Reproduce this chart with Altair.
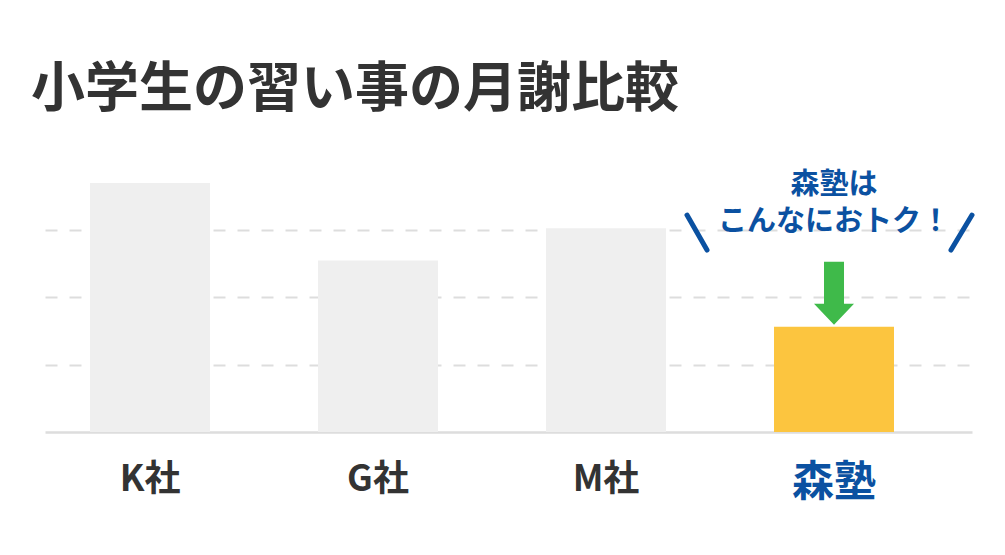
import altair as alt
import pandas as pd

# ---- data ----
companies = ["K社", "G社", "M社", "森塾"]
fees = [18450, 12700, 15100, 7800]          # monthly fee (estimated, yen)
bar_colors = ["#efefef", "#efefef", "#efefef", "#fcc53f"]
grid_values = [5000, 10000, 15000]

title_text = "小学生の習い事の月謝比較"
callout_lines = ["森塾は", "こんなにおトク！"]
callout_y = [18300]
arrow_y = [10280]
slash_top_y = [16070]
slash_bottom_y = [13480]

BLUE = "#0b51a1"
FONT = "Noto Sans CJK JP"

bars_df = pd.DataFrame({"company": companies, "fee": fees})
text_df = pd.DataFrame({"company": ["森塾"], "line": ["\n".join(callout_lines)], "y": callout_y})
arrow_df = pd.DataFrame({"company": ["森塾"], "y": arrow_y})
slash_df = pd.DataFrame({"company": ["森塾"], "y": slash_top_y, "y2": slash_bottom_y})

x_scale = alt.Scale(domain=companies, paddingInner=0.4737, paddingOuter=0.2698, align=0.366)
y_scale = alt.Scale(domain=[0, 20000], nice=False)

x_enc = alt.X("company:N", scale=x_scale, sort=companies, title=None,
              axis=alt.Axis(labelAngle=0, ticks=False, domain=True, domainColor="#dddddd",
                            domainWidth=2.5, labelFont=FONT, labelFontWeight="bold",
                            labelPadding=30,
                            labelFontSize={"condition": {"test": "datum.value === '森塾'", "value": 42}, "value": 36},
                            labelColor={"condition": {"test": "datum.value === '森塾'", "value": BLUE}, "value": "#333333"}))

bars = alt.Chart(bars_df).mark_bar().encode(
    x=x_enc,
    y=alt.Y("fee:Q", scale=y_scale, title=None,
            axis=alt.Axis(values=grid_values, labels=False, ticks=False, domain=False,
                          grid=True, gridDash=[12, 12], gridColor="#dddddd", gridWidth=2)),
    color=alt.Color("company:N", scale=alt.Scale(domain=companies, range=bar_colors), legend=None),
)

callout = alt.Chart(text_df).mark_text(font=FONT, fontWeight="bold", fontSize=29, lineBreak="\n",
                                       lineHeight=37, color=BLUE, baseline="middle",
                                       align="center").encode(
    x=alt.X("company:N", scale=x_scale, sort=companies),
    y=alt.Y("y:Q", scale=y_scale),
    text="line:N",
)

arrow_path = "M-0.5,-1.575L0.5,-1.575L0.5,0.525L1,0.525L0,1.575L-1,0.525L-0.5,0.525Z"
arrow = alt.Chart(arrow_df).mark_point(shape=arrow_path, size=1600, filled=True,
                                       color="#3fba4a", opacity=1, strokeWidth=0).encode(
    x=alt.X("company:N", scale=x_scale, sort=companies),
    y=alt.Y("y:Q", scale=y_scale),
)

slash_left = alt.Chart(slash_df).mark_rule(color=BLUE, strokeWidth=5, strokeCap="round",
                                           xOffset=-147, x2Offset=-127).encode(
    x=alt.X("company:N", scale=x_scale, sort=companies),
    x2="company:N",
    y=alt.Y("y:Q", scale=y_scale),
    y2="y2:Q",
)
slash_right = alt.Chart(slash_df).mark_rule(color=BLUE, strokeWidth=5, strokeCap="round",
                                            xOffset=138, x2Offset=117).encode(
    x=alt.X("company:N", scale=x_scale, sort=companies),
    x2="company:N",
    y=alt.Y("y:Q", scale=y_scale),
    y2="y2:Q",
)

chart = alt.layer(bars, callout, arrow, slash_left, slash_right).properties(
    width=927, height=270,
    background="white",
    title=alt.TitleParams(title_text, anchor="start", font=FONT, fontSize=54,
                          fontWeight="bold", color="#333333", offset=44, dx=-14),
    autosize=alt.AutoSizeParams(type="none"),
    padding={"left": 37, "top": 154, "right": 20, "bottom": 80},
).configure_view(strokeWidth=0, stroke="transparent")

chart.save("out.html", embed_options={"renderer": "svg", "actions": False})
